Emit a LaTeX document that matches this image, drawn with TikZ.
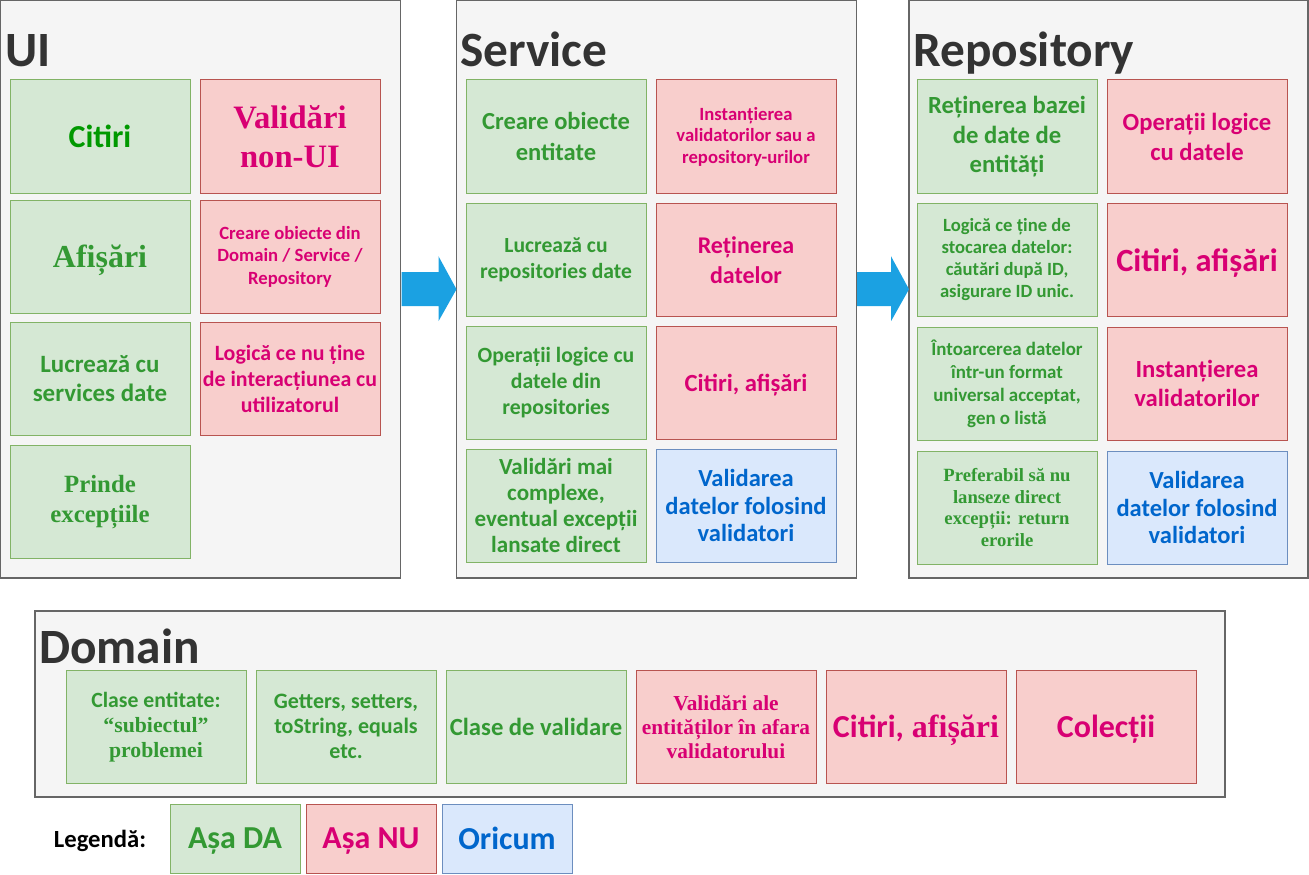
\documentclass[tikz,border=0pt]{standalone}
\usepackage{fontspec}
\setmainfont{Carlito}
\newfontfamily\tnr{Liberation Serif}
\definecolor{gfill}{HTML}{D5E8D4}
\definecolor{gline}{HTML}{82B366}
\definecolor{rfill}{HTML}{F8CECC}
\definecolor{rline}{HTML}{B85450}
\definecolor{bfill}{HTML}{DAE8FC}
\definecolor{bline}{HTML}{6C8EBF}
\definecolor{cfill}{HTML}{F5F5F5}
\definecolor{cline}{HTML}{666666}
\definecolor{ttlc}{HTML}{333333}
\definecolor{gtxt}{HTML}{339933}
\definecolor{gtxtb}{HTML}{009900}
\definecolor{rtxt}{HTML}{D80073}
\definecolor{btxt}{HTML}{0066CC}
\definecolor{arrc}{HTML}{1BA1E2}
\newcommand\fsz[2]{\fontsize{#1pt}{#2pt}\selectfont}
\begin{document}
\begin{tikzpicture}[x=0.75pt,y=-0.75pt,
  cell/.style={anchor=north west, inner sep=0pt, outer sep=0pt, align=center,
    line width=0.75pt, minimum width=135pt, minimum height=85pt},
  gcell/.style={cell, fill=gfill, draw=gline, text=gtxt},
  rcell/.style={cell, fill=rfill, draw=rline, text=rtxt},
  bcell/.style={cell, fill=bfill, draw=bline, text=btxt},
  oneline/.style={text depth=0pt},
  legcell/.style={oneline, minimum width=97.5pt, minimum height=51.75pt},
  fnt/.style 2 args={font=\bfseries\fsz{#1}{#2}},
  fntt/.style 2 args={font=\tnr\bfseries\fsz{#1}{#2}},
  container/.style={anchor=north west, draw=cline, fill=cfill, line width=0.9pt,
    inner sep=0pt, outer sep=0pt},
  ttl/.style={anchor=base west, inner sep=0pt, text=ttlc, font=\bfseries\fsz{37}{44}},
  blockarrow/.style={fill=arrc}
]
\useasboundingbox (0,0) rectangle (1309,874);

% ---------- containers ----------
\node[container, minimum width=300pt, minimum height=433.1pt] (ui) at (0.5,0.5) {};
\node[container, minimum width=300pt, minimum height=433.1pt] (svc) at (456.5,0.5) {};
\node[container, minimum width=299.25pt, minimum height=433.1pt] (rep) at (909,0.5) {};
\node[container, minimum width=892.5pt, minimum height=139.5pt] (dom) at (35,611) {};

\node[ttl] (uit) at (5,67) {UI};
\node[ttl] (svct) at (460,67) {Service};
\node[ttl] (rept) at (913,67) {Repository};
\node[ttl] (domt) at (39,663) {Domain};

% ---------- arrows ----------
\fill[blockarrow] (svc.west) -- ++(-18,-33) -- ++(0,16) -- ++(-37,0) -- ++(0,34) -- ++(37,0) -- ++(0,15) -- cycle;
\fill[blockarrow] (rep.west) -- ++(-18,-33) -- ++(0,16) -- ++(-34,0) -- ++(0,34) -- ++(34,0) -- ++(0,15) -- cycle;

% ---------- UI ----------
\node[gcell, oneline, fnt={24}{29}, text=gtxtb] (u1) at (10,80) {Citiri};
\node[rcell, fntt={24.5}{29}] (u2) at (200,80) {Validări\\non-UI};
\node[gcell, oneline, fntt={24}{29}] (u3) at (10,200) {Afișări};
\node[rcell, fnt={14}{16.7}] (u4) at (200,200) {Creare obiecte din\\Domain / Service /\\Repository};
\node[gcell, fnt={18.7}{21.75}] (u5) at (10,322) {Lucrează cu\\services date};
\node[rcell, fnt={16.4}{19.5}] (u6) at (200,322) {Logică ce nu ține\\de interacțiunea cu\\utilizatorul};
\node[gcell, fntt={18.6}{22.5}] (u7) at (10,445) {Prinde\\excepțiile};

% ---------- Service ----------
\node[gcell, fnt={18.4}{23.25}] (s1) at (466,80) {Creare obiecte\\entitate};
\node[rcell, fnt={14}{16.1}] (s2) at (656,80) {Instanțierea\\validatorilor sau a\\repository-urilor};
\node[gcell, fnt={16.2}{19.5}] (s3) at (466,203) {Lucrează cu\\repositories date};
\node[rcell, fnt={18}{22.5}] (s4) at (656,203) {Reținerea\\datelor};
\node[gcell, fnt={16.3}{19.5}] (s5) at (466,326) {Operații logice cu\\datele din\\repositories};
\node[rcell, oneline, fnt={18.5}{22}] (s6) at (656,326) {Citiri, afișări};
\node[gcell, fnt={17.3}{19.5}] (s7) at (466,449) {Validări mai\\complexe,\\eventual excepții\\lansate direct};
\node[bcell, fnt={18.4}{20.6}] (s8) at (656,449) {Validarea\\datelor folosind\\validatori};

% ---------- Repository ----------
\node[gcell, fnt={18.5}{22.1}] (r1) at (917,80) {Reținerea bazei\\de date de\\entități};
\node[rcell, fnt={18.5}{22.5}] (r2) at (1107,80) {Operații logice\\cu datele};
\node[gcell, fnt={14}{16.6}] (r3) at (917,203) {Logică ce ține de\\stocarea datelor:\\căutări după ID,\\asigurare ID unic.};
\node[rcell, oneline, fnt={24.3}{29}] (r4) at (1107,203) {Citiri, afișări};
\node[gcell, fnt={14.2}{17.25}] (r5) at (917,327) {Întoarcerea datelor\\într-un format\\universal acceptat,\\gen o listă};
\node[rcell, fnt={18.5}{21.75}] (r6) at (1107,327) {Instanțierea\\validatorilor};
\node[gcell, fntt={14}{16.2}] (r7) at (917,451) {Preferabil să nu\\lanseze direct\\excepții: return\\erorile};
\node[bcell, fnt={18.4}{20.6}] (r8) at (1107,451) {Validarea\\datelor folosind\\validatori};

% ---------- Domain ----------
\node[gcell, fnt={16.3}{18.75}] (d1) at (66,670) {Clase entitate:\\{\tnr “subiectul”}\\{\tnr problemei}};
\node[gcell, fnt={16.5}{18.75}] (d2) at (256,670) {Getters, setters,\\toString, equals\\etc.};
\node[gcell, oneline, fnt={18.5}{22}] (d3) at (446,670) {Clase de validare};
\node[rcell, fntt={16}{18}] (d4) at (636,670) {Validări ale\\entităților în afara\\validatorului};
\node[rcell, oneline, fnt={24}{29}] (d5) at (826,670) {Citiri,{\tnr\ afișări}};
\node[rcell, oneline, fnt={24}{29}] (d6) at (1016,670) {Colecții};

% ---------- Legend ----------
\node[inner sep=0pt, oneline, font=\bfseries\fsz{18.5}{22}, text=black] (legl) at (100,839) {Legendă:};
\node[gcell, legcell, fnt={24}{29}] (lg) at (170,804) {Așa DA};
\node[rcell, legcell, fnt={24}{29}] (lr) at (306,804) {Așa NU};
\node[bcell, legcell, fnt={24}{29}] (lb) at (442,804) {Oricum};
\end{tikzpicture}
\end{document}
